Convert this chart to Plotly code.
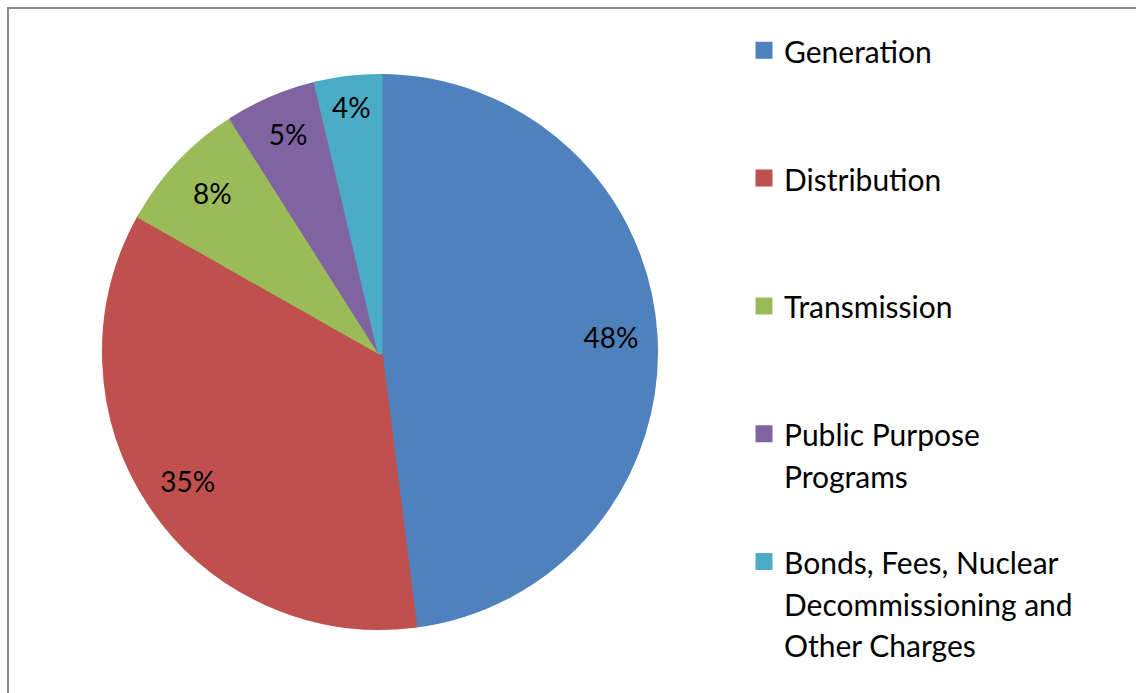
import plotly.graph_objects as go

categories = ["Generation", "Distribution", "Transmission",
              "Public Purpose Programs",
              "Bonds, Fees, Nuclear Decommissioning and Other Charges"]
legend_lines = [["Generation"], ["Distribution"], ["Transmission"],
                ["Public Purpose", "Programs"],
                ["Bonds, Fees, Nuclear", "Decommissioning and", "Other Charges"]]
values = [48.0, 35.2, 7.8, 5.3, 3.7]
colors = ["#4F81BD", "#C0504D", "#9BBB59", "#8064A2", "#4BACC6"]

W, H = 1136, 693
FONT = "Lato, 'Open Sans', sans-serif"
LEG_SIZE = 30
N_LINES = 3

def legend_label(lines):
    txt = "<br>".join(f"<span style='font-size:{LEG_SIZE}px'>{l}</span>" for l in lines)
    txt += "<br> " * (N_LINES - len(lines))
    return txt

labels = [legend_label(l) for l in legend_lines]

cx, cy, r = 380, 352, 275.5
domain = dict(x=[(cx - r) / W, (cx + r) / W], y=[(H - cy - r) / H, (H - cy + r) / H])

fig = go.Figure()
# Filled slices (with legend)
fig.add_trace(go.Pie(
    labels=labels,
    values=values,
    sort=False,
    direction="clockwise",
    rotation=0,
    marker=dict(colors=colors, line=dict(color=colors, width=5)),
    textinfo="none",
    hovertext=categories,
    hoverinfo="text+percent",
    domain=domain,
))
# Transparent ring carrying the percentage labels near the rim
fig.add_trace(go.Pie(
    labels=categories,
    values=values,
    sort=False,
    direction="clockwise",
    rotation=0,
    hole=0.68,
    showlegend=False,
    marker=dict(colors=["rgba(0,0,0,0)"] * len(values), line=dict(width=0)),
    texttemplate="%{percent:.0%}",
    textposition="inside",
    insidetextorientation="horizontal",
    textfont=dict(family=FONT, size=28, color="#000000"),
    hoverinfo="skip",
    domain=domain,
))

fig.update_layout(
    width=W, height=H,
    margin=dict(l=0, r=0, t=0, b=0),
    paper_bgcolor="white",
    plot_bgcolor="white",
    font=dict(family=FONT, color="#000000"),
    uniformtext=dict(minsize=28, mode="show"),
    showlegend=True,
    legend=dict(
        x=(768 - 24) / W, xanchor="left",
        y=1 - 23 / H, yanchor="top",
        valign="top",
        font=dict(family=FONT, size=32, color="#000000"),
        bgcolor="rgba(0,0,0,0)",
        borderwidth=0,
    ),
    shapes=[dict(type="rect", xref="paper", yref="paper",
                 x0=8 / W, x1=1.02, y0=-0.02, y1=1 - 8 / H,
                 line=dict(color="#8C8C8C", width=2), layer="below")],
)

fig.write_html("out.html")
